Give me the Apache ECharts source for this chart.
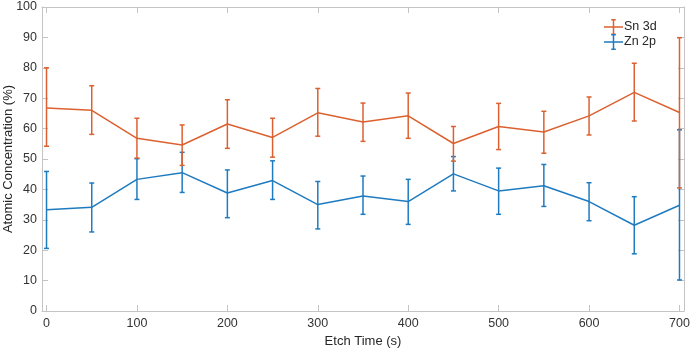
<!DOCTYPE html>
<html>
<head>
<meta charset="utf-8">
<script src="https://cdn.jsdelivr.net/npm/echarts@6/dist/echarts.min.js"></script>
<style>
html,body{margin:0;padding:0;background:#fff;}
#chart{width:694px;height:348px;}
</style>
</head>
<body>
<div id="chart"></div>
<script>
var etchTimes=[0,50,100,150,200,250,300,350,400,450,500,550,600,650,700];

var snMean=[66.8,66.0,56.8,54.6,61.5,57.1,65.2,62.2,64.2,55.1,60.7,58.9,64.2,71.9,65.3];
var snLow=[54.2,58.1,50.3,47.9,53.5,50.6,57.5,55.8,56.8,49.3,53.1,51.9,57.9,62.5,40.5];
var snHigh=[80.0,74.1,63.4,61.2,69.5,63.4,73.2,68.4,71.7,60.7,68.3,65.7,70.4,81.5,89.9];

var znMean=[33.3,34.1,43.3,45.5,38.8,42.9,35.0,37.8,36.0,45.1,39.5,41.2,36.0,28.2,34.8];
var znLow=[20.6,26.0,36.7,39.0,30.7,36.7,27.0,31.8,28.5,39.5,31.8,34.4,29.7,18.8,10.2];
var znHigh=[45.9,42.1,50.1,52.2,46.4,49.4,42.6,44.4,43.3,50.8,47.0,48.2,42.2,37.6,59.6];

var xTicks=[0,100,200,300,400,500,600,700];

var snColor='#dc6130';
var znColor='#1f7bc0';
var axisGrey='#c4c4c4';
var font='"Liberation Sans", Arial, Helvetica, sans-serif';

// error bar icon for the legend
var ebIcon='path://M0,7.25h19v1.5h-19z M8.75,0h1.5v16h-1.5z M7.25,0h4.5v1.5h-4.5z M7.25,14.5h4.5v1.5h-4.5z';

function pairs(xs,ys){
	var out=[];
	for(var i=0;i<xs.length;i++){ out.push([xs[i],ys[i]]); }
	return out;
}
function triples(xs,lo,hi){
	var out=[];
	for(var i=0;i<xs.length;i++){ out.push([xs[i],lo[i],hi[i]]); }
	return out;
}

function errorBars(color){
	return function(params,api){
		var x=api.value(0);
		var p1=api.coord([x,api.value(1)]);
		var p2=api.coord([x,api.value(2)]);
		var w=2.5;
		var st={stroke:color,lineWidth:1.5};
		return {
			type:'group',
			children:[
				{type:'line',shape:{x1:p1[0],y1:p1[1],x2:p2[0],y2:p2[1]},style:st},
				{type:'line',shape:{x1:p1[0]-w,y1:p1[1],x2:p1[0]+w,y2:p1[1]},style:st},
				{type:'line',shape:{x1:p2[0]-w,y1:p2[1],x2:p2[0]+w,y2:p2[1]},style:st}
			]
		};
	};
}

var chart=echarts.init(document.getElementById('chart'));

var baseX={
	type:'value',min:-5,max:705,interval:100,
	axisLine:{show:true,onZero:false,lineStyle:{color:axisGrey,width:1}},
	axisTick:{show:true,inside:true,length:6,lineStyle:{color:axisGrey}},
	splitLine:{show:false}
};
var baseY={
	type:'value',min:0,max:100,interval:10,
	axisLine:{show:true,onZero:false,lineStyle:{color:axisGrey,width:1}},
	axisTick:{show:true,inside:true,length:6,lineStyle:{color:axisGrey}},
	splitLine:{show:false}
};

var option={
	backgroundColor:'#fff',
	animation:false,
	grid:{left:42,right:10,top:7,bottom:37,outerBoundsMode:'none',containLabel:false},
	legend:{
		orient:'vertical',
		left:604,top:19,padding:0,
		itemWidth:19,itemHeight:16,itemGap:-1,
		textStyle:{fontFamily:font,fontSize:12.5,color:'#262626',padding:[0,0,0,-4]},
		data:[
			{name:'Sn 3d',icon:ebIcon,itemStyle:{color:snColor,borderWidth:0}},
			{name:'Zn 2p',icon:ebIcon,itemStyle:{color:znColor,borderWidth:0}}
		]
	},
	xAxis:[
		Object.assign({},baseX,{
			position:'bottom',
			name:'Etch Time (s)',nameLocation:'middle',nameGap:24,nameMoveOverlap:false,
			nameTextStyle:{fontFamily:font,fontSize:13,color:'#262626'},
			axisLabel:{fontFamily:font,fontSize:12.5,color:'#333',margin:6,
				customValues:xTicks},
			axisTick:{show:true,inside:true,length:6,lineStyle:{color:axisGrey},customValues:xTicks}
		}),
		Object.assign({},baseX,{position:'top',axisLabel:{show:false},
			axisTick:{show:true,inside:true,length:6,lineStyle:{color:axisGrey},customValues:xTicks}})
	],
	yAxis:[
		Object.assign({},baseY,{
			position:'left',
			name:'Atomic Concentration (%)',nameLocation:'middle',nameGap:27,nameMoveOverlap:false,
			nameTextStyle:{fontFamily:font,fontSize:13,color:'#262626'},
			axisLabel:{fontFamily:font,fontSize:12.5,color:'#333',margin:5}
		}),
		Object.assign({},baseY,{position:'right',axisLabel:{show:false}})
	],
	series:[
		{
			name:'Zn 2p',type:'custom',xAxisIndex:0,yAxisIndex:0,
			renderItem:errorBars(znColor),
			encode:{x:0,y:[1,2]},
			data:triples(etchTimes,znLow,znHigh),z:2
		},
		{
			name:'Zn 2p',type:'line',xAxisIndex:0,yAxisIndex:0,
			showSymbol:false,symbol:'none',
			lineStyle:{color:znColor,width:1.5},itemStyle:{color:znColor},
			data:pairs(etchTimes,znMean),z:2
		},
		{
			name:'Sn 3d',type:'custom',xAxisIndex:0,yAxisIndex:0,
			renderItem:errorBars(snColor),
			encode:{x:0,y:[1,2]},
			data:triples(etchTimes,snLow,snHigh),z:3
		},
		{
			name:'Sn 3d',type:'line',xAxisIndex:0,yAxisIndex:0,
			showSymbol:false,symbol:'none',
			lineStyle:{color:snColor,width:1.5},itemStyle:{color:snColor},
			data:pairs(etchTimes,snMean),z:3
		}
	]
};
chart.setOption(option);
</script>
</body>
</html>
